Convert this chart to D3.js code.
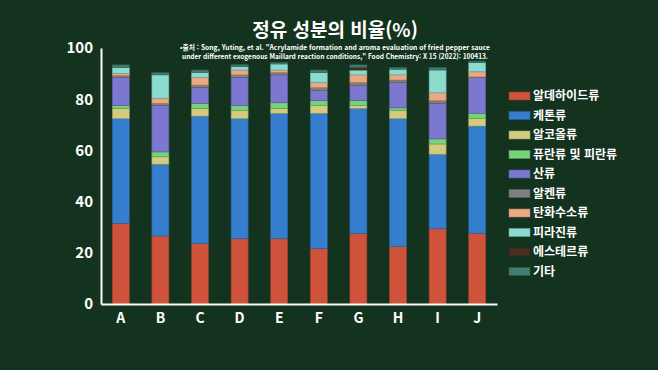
<!DOCTYPE html>
<html lang="ko">
<head>
    <meta charset="UTF-8">
    <title>정유 성분의 비율</title>
    <style>
        body {
            margin: 0;
            padding: 0;
            overflow: hidden;
            background: #14331f;
        }
        svg text {
            font-family: "Noto Sans CJK KR", "Noto Sans", sans-serif;
            fill: #fff;
        }
    </style>
</head>
<body>
    <script src="https://d3js.org/d3.v7.min.js"></script>
    <script>
        // 시료
        const samples = ["A", "B", "C", "D", "E", "F", "G", "H", "I", "J"];

        // 성분 분류 (아래에서 위로 쌓는 순서)
        const groups = ["알데하이드류", "케톤류", "알코올류", "퓨란류 및 피란류", "산류",
                        "알켄류", "탄화수소류", "피라진류", "에스테르류", "기타"];
        const colors = ["#cf523a", "#347ecd", "#d3cb7e", "#78d27a", "#7c78d0",
                        "#808080", "#eaa983", "#8cdbcf", "#4b2e22", "#427c6f"];

        // 성분별 비율(%), 시료 A~J 순서
        const aldehydes  = [31.5, 26.6, 23.6, 25.5, 25.5, 21.6, 27.6, 22.4, 29.4, 27.6];
        const ketones    = [40.9, 28.0, 49.8, 46.9, 49.0, 52.9, 48.8, 50.0, 29.1, 41.9];
        const alcohols   = [3.9, 2.9, 3.0, 3.1, 1.9, 3.0, 1.1, 3.1, 4.0, 3.0];
        const furans     = [1.2, 1.9, 2.0, 2.0, 2.2, 1.9, 1.9, 1.1, 2.0, 2.0];
        const acids      = [10.9, 18.2, 6.1, 10.9, 10.9, 4.1, 6.0, 9.9, 13.9, 13.9];
        const alkenes    = [0.8, 0.8, 1.0, 1.1, 0.9, 1.0, 1.1, 1.0, 1.0, 0.3];
        const hydrocarb  = [0.9, 2.0, 3.0, 1.9, 1.0, 2.0, 3.0, 2.0, 3.1, 2.0];
        const pyrazines  = [2.3, 9.1, 1.9, 1.3, 2.35, 3.9, 1.9, 2.2, 8.9, 3.6];
        const esters     = [0, 0, 0, 0, 0, 0, 1.0, 0, 0, 0];
        const others     = [1.0, 0.9, 1.0, 0.8, 0.65, 1.0, 1.0, 0.7, 1.0, 0.6];

        const series = [aldehydes, ketones, alcohols, furans, acids,
                        alkenes, hydrocarb, pyrazines, esters, others];

        const yTicks = [0, 20, 40, 60, 80, 100];

        const width = 658, height = 370;
        const margin = { top: 48, right: 161, bottom: 66, left: 101 };

        const table = samples.map((s, i) => {
            const row = { sample: s };
            groups.forEach((g, k) => row[g] = series[k][i]);
            return row;
        });

        const stacked = d3.stack().keys(groups)(table);

        const svg = d3.select("body").append("svg")
            .attr("width", width)
            .attr("height", height);

        svg.append("rect")
            .attr("width", width)
            .attr("height", height)
            .attr("fill", "#14331f");

        const x = d3.scaleBand()
            .domain(samples)
            .range([margin.left, width - margin.right])
            .paddingInner(0.57)
            .paddingOuter(0.285);

        const y = d3.scaleLinear()
            .domain([0, 100])
            .range([height - margin.bottom, margin.top]);

        const color = d3.scaleOrdinal().domain(groups).range(colors);

        // 막대
        svg.append("g")
            .selectAll("g")
            .data(stacked)
            .join("g")
            .attr("fill", d => color(d.key))
            .attr("stroke", d => d3.color(color(d.key)).darker(0.8))
            .attr("stroke-width", 0.6)
            .selectAll("rect")
            .data(d => d.filter(p => p[1] - p[0] > 0))
            .join("rect")
            .attr("x", d => x(d.data.sample))
            .attr("y", d => y(d[1]))
            .attr("width", x.bandwidth())
            .attr("height", d => y(d[0]) - y(d[1]));

        // 축
        const yAxis = svg.append("g")
            .attr("transform", `translate(${margin.left},0)`)
            .call(d3.axisLeft(y).tickValues(yTicks).tickSize(0).tickPadding(8));
        yAxis.select(".domain").attr("stroke", "#fff").attr("stroke-width", 2);
        yAxis.selectAll("text")
            .attr("font-size", 15)
            .attr("font-weight", "bold")
            .attr("fill", "#fff");

        const xAxis = svg.append("g")
            .attr("transform", `translate(0,${height - margin.bottom})`)
            .call(d3.axisBottom(x).tickSize(0).tickPadding(9));
        xAxis.select(".domain").attr("stroke", "#fff").attr("stroke-width", 2);
        xAxis.selectAll("text")
            .attr("font-size", 14)
            .attr("font-weight", "bold")
            .attr("fill", "#fff");

        // 제목
        svg.append("text")
            .attr("x", 335)
            .attr("y", 37)
            .attr("text-anchor", "middle")
            .attr("font-size", 19)
            .attr("font-weight", "bold")
            .text("정유 성분의 비율(%)");

        const source = [
            "•출처 : Song, Yuting, et al. \"Acrylamide formation and aroma evaluation of fried pepper sauce",
            "under different exogenous Maillard reaction conditions,\" Food Chemistry: X 15 (2022): 100413."
        ];
        svg.append("g")
            .selectAll("text")
            .data(source)
            .join("text")
            .attr("x", 335)
            .attr("y", (d, i) => 50 + i * 8.5)
            .attr("text-anchor", "middle")
            .attr("font-size", 7)
            .attr("font-weight", "bold")
            .attr("textLength", (d, i) => i === 0 ? 310 : 306)
            .attr("lengthAdjust", "spacingAndGlyphs")
            .text(d => d);

        // 범례
        const legend = svg.append("g")
            .selectAll("g")
            .data(groups)
            .join("g")
            .attr("transform", (d, i) => `translate(509,${96 + i * 19.5})`);

        legend.append("rect")
            .attr("y", -4)
            .attr("width", 21)
            .attr("height", 8)
            .attr("fill", d => color(d))
            .attr("stroke", d => d3.color(color(d)).darker(0.8))
            .attr("stroke-width", 0.6);

        legend.append("text")
            .attr("x", 24)
            .attr("dy", "0.35em")
            .attr("font-size", 12)
            .attr("font-weight", "bold")
            .text(d => d);
    </script>
</body>
</html>
